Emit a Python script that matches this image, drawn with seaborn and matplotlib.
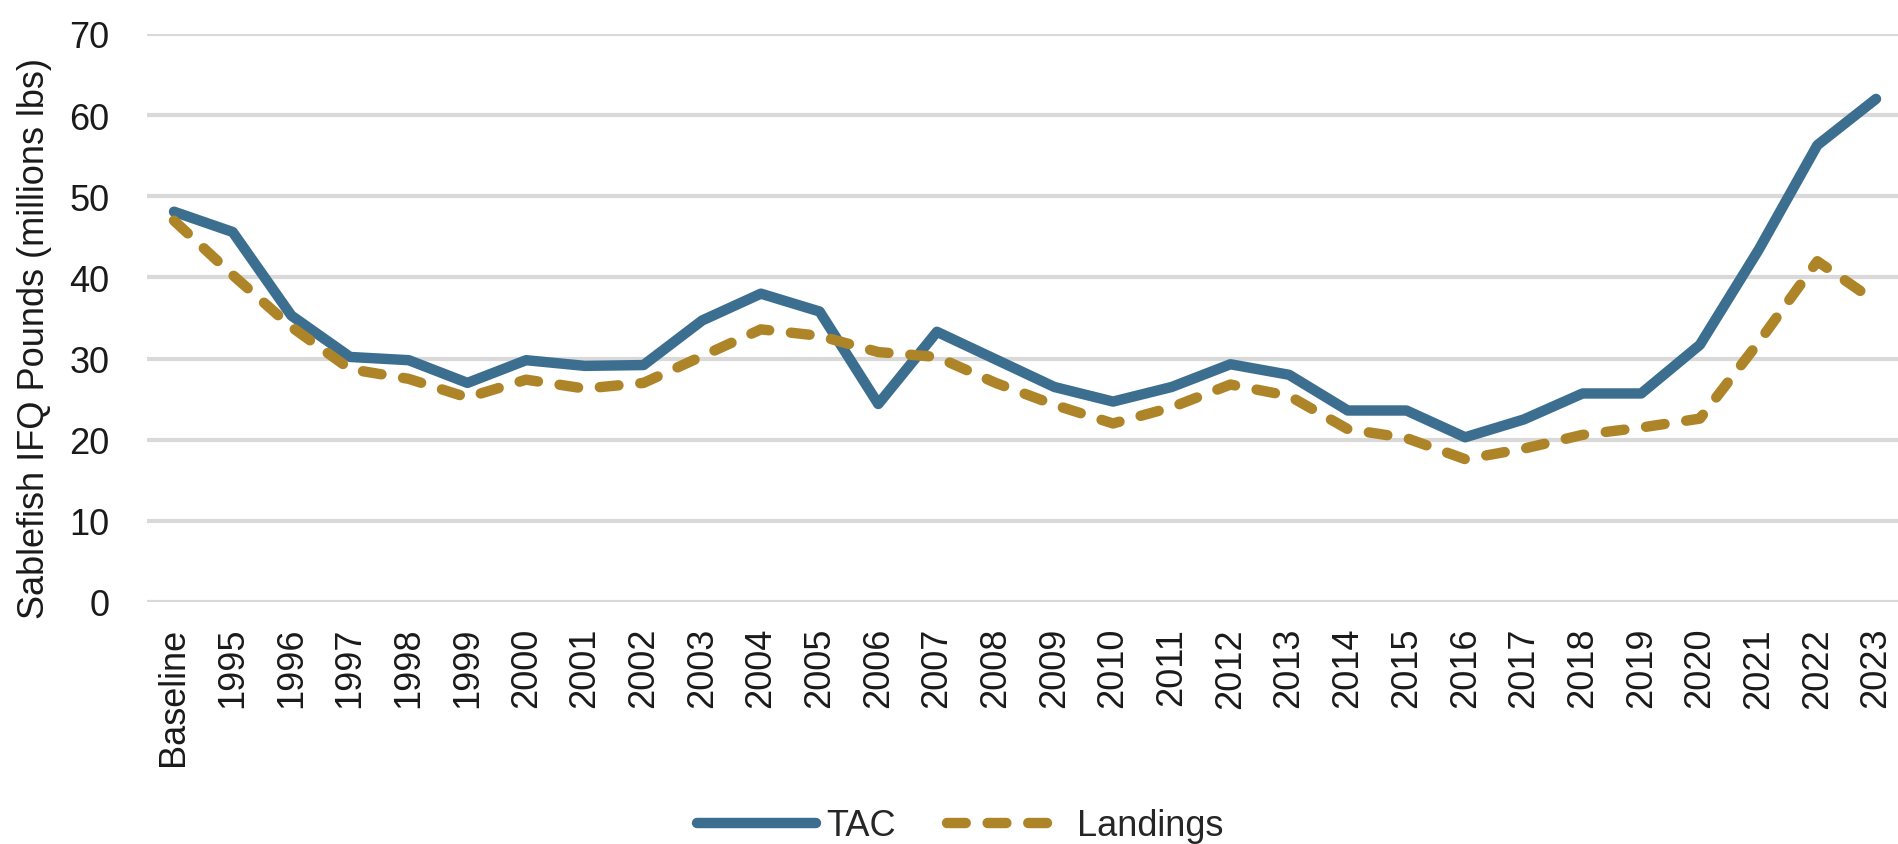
import matplotlib

matplotlib.use("Agg")
import matplotlib.pyplot as plt
import pandas as pd
import seaborn as sns
from matplotlib import font_manager

# Sablefish IFQ: TAC vs landings (millions lbs)
years = ["Baseline"] + [str(y) for y in range(1995, 2024)]
tac = [48.1, 45.6, 35.3, 30.2, 29.8, 27.0, 29.8, 29.1, 29.2, 34.7,
       38.0, 35.8, 24.4, 33.3, 29.9, 26.5, 24.7, 26.5, 29.3, 28.0,
       23.6, 23.6, 20.3, 22.5, 25.7, 25.7, 31.7, 43.4, 56.3, 62.0]
landings = [47.0, 40.3, 33.9, 28.7, 27.5, 25.2, 27.4, 26.3, 27.0, 30.3,
            33.6, 32.8, 30.8, 30.2, 27.0, 24.3, 22.0, 24.0, 26.8, 25.4,
            21.3, 20.2, 17.6, 18.9, 20.6, 21.5, 22.6, 32.0, 42.0, 37.0]
series_names = ["TAC", "Landings"]
y_ticks = [0, 10, 20, 30, 40, 50, 60, 70]

df = pd.concat([
    pd.DataFrame({"year": years, "pos": range(len(years)), "value": tac, "series": "TAC"}),
    pd.DataFrame({"year": years, "pos": range(len(years)), "value": landings, "series": "Landings"}),
])

sns.set_theme(style="white")
# the reference uses a narrow face; fall back to a smaller regular one
installed = {f.name for f in font_manager.fontManager.ttflist}
if "Liberation Sans Narrow" in installed:
    plt.rcParams["font.family"] = ["Liberation Sans Narrow", "DejaVu Sans"]
    fs = 32
elif "DejaVu Sans Condensed" in installed:
    plt.rcParams["font.family"] = ["DejaVu Sans Condensed", "DejaVu Sans"]
    fs = 27
else:
    plt.rcParams["font.family"] = ["Liberation Sans", "DejaVu Sans"]
    fs = 26

W, H = 1898, 845
fig = plt.figure(figsize=(W / 100, H / 100), dpi=100)
ax = fig.add_axes([147 / W, (H - 603) / H, (1903 - 147) / W, (603 - 35) / H])

palette = {"TAC": "#3C6E8F", "Landings": "#AE8428"}
dashes = {"TAC": "", "Landings": (1.8, 2.1)}
sns.lineplot(
    data=df, x="pos", y="value", hue="series", style="series",
    hue_order=series_names, style_order=series_names,
    palette=palette, dashes=dashes, linewidth=7.5, ax=ax, legend=False,
)
for line in ax.lines:
    line.set_solid_capstyle("round")
    line.set_dash_capstyle("round")
    line.set_solid_joinstyle("round")
    line.set_dash_joinstyle("round")

ax.set_xlim(-0.46, len(years) - 1 + 0.46)
ax.set_ylim(0, 70)
ax.set_yticks(y_ticks)
ax.set_xticks(range(len(years)))
ax.set_xticklabels(years, rotation=90)
ax.grid(axis="y", color="#D9D9D9", linewidth=3)
ax.grid(axis="x", visible=False)
for s in ax.spines.values():
    s.set_visible(False)
ax.tick_params(axis="y", length=0, pad=27, labelsize=fs, colors="#1a1a1a")
ax.tick_params(axis="x", length=0, pad=18, labelsize=fs, colors="#1a1a1a")
ax.set_xlabel("")
ax.set_ylabel("Sablefish IFQ Pounds (millions lbs)", fontsize=fs, color="#1a1a1a")
ax.yaxis.set_label_coords(-0.054, 0.465)

handles = [
    plt.Line2D([], [], color=palette["TAC"], lw=7.5, solid_capstyle="round"),
    plt.Line2D([], [], color=palette["Landings"], lw=7.5, dashes=(1.8, 2.1),
               dash_capstyle="round"),
]
fig.legend(handles, series_names, loc="center", bbox_to_anchor=(960 / W, 1 - 827 / H),
           ncol=2, frameon=False, fontsize=fs, handlelength=3.3, handletextpad=0.3,
           columnspacing=1.4, borderpad=0)

fig.savefig("out.png", dpi=100)
